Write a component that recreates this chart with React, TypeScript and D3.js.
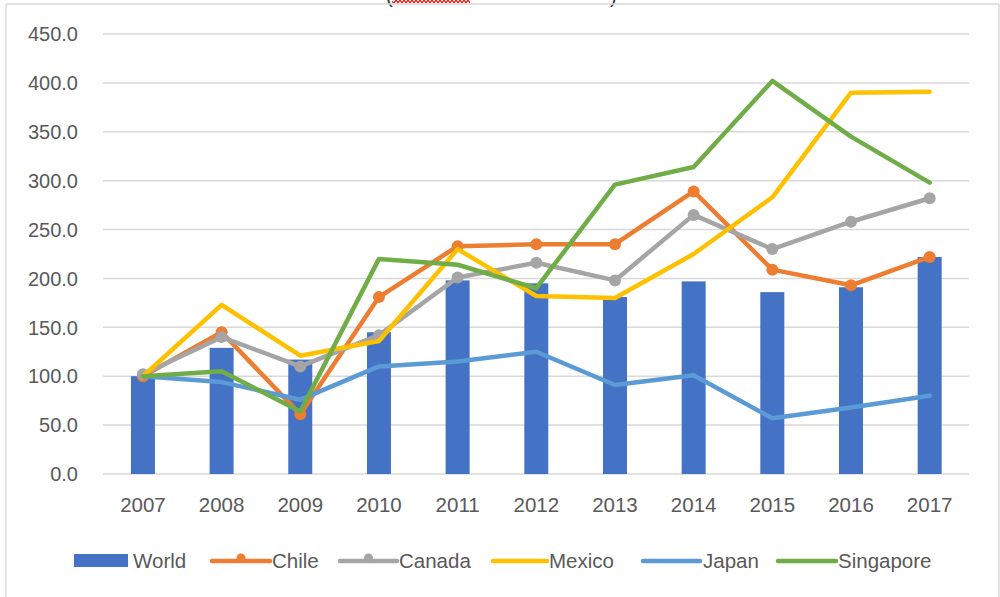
import React from "react";
import * as d3 from "d3";

const years = ["2007","2008","2009","2010","2011","2012","2013","2014","2015","2016","2017"];
const world = [100, 129, 117, 145, 198, 195, 181, 197, 186, 191, 222];
const chile = [100, 145, 61, 181, 233, 235, 235, 289, 209, 193, 222];
const canada = [102, 140, 110, 142, 201, 216, 198, 265, 230, 258, 282];
const mexico = [100, 173, 121, 136, 230, 182, 180, 225, 283, 390, 391];
const japan = [100, 94, 76, 110, 115, 125, 91, 101, 57, 68, 80];
const singapore = [100, 105, 64, 220, 214, 190, 296, 314, 402, 345, 298];
const yTicks = [0, 50, 100, 150, 200, 250, 300, 350, 400, 450];

const lineSeries = [
  { name: "Chile", values: chile, color: "#ED7D31", marker: true },
  { name: "Canada", values: canada, color: "#A5A5A5", marker: true },
  { name: "Mexico", values: mexico, color: "#FFC000", marker: false },
  { name: "Japan", values: japan, color: "#5B9BD5", marker: false },
  { name: "Singapore", values: singapore, color: "#70AD47", marker: false },
];

const legendItems = [
  { name: "World", color: "#4472C4", kind: "bar", x0: 74, x1: 128, tx: 133 },
  { name: "Chile", color: "#ED7D31", kind: "marker", x0: 212, x1: 270, tx: 272 },
  { name: "Canada", color: "#A5A5A5", kind: "marker", x0: 340, x1: 397, tx: 399 },
  { name: "Mexico", color: "#FFC000", kind: "line", x0: 493, x1: 547, tx: 549 },
  { name: "Japan", color: "#5B9BD5", kind: "line", x0: 643, x1: 700, tx: 703 },
  { name: "Singapore", color: "#70AD47", kind: "line", x0: 778, x1: 836, tx: 838 },
];

const FONT = "'Liberation Sans', Arial, sans-serif";
const TXT = "#595959";

export default function App() {
  const W = 1000, H = 597;
  const x = d3.scaleBand<string>().domain(years).range([103.6, 969]).paddingInner(0).paddingOuter(0);
  const y = d3.scaleLinear().domain([0, 450]).range([474, 34]);
  const bw = x.bandwidth() * 0.305;
  const cx = (yr: string) => (x(yr) as number) + x.bandwidth() / 2;
  const line = d3.line<number>().x((_, i) => cx(years[i])).y((v) => y(v));

  // squiggle for cut-off title
  let sq = "M392,1.5";
  for (let xx = 394; xx <= 470; xx += 2) sq += ` L${xx},${(xx / 2) % 2 === 0 ? 0.2 : 2.8}`;

  return (
    <svg width={W} height={H} style={{ position: "absolute", left: 0, top: 0, background: "#fff" }} fontFamily={FONT}>
      <rect x={0} y={0} width={W} height={H} fill="#fff" />
      {/* cut-off title */}
      <text x={386} y={3} fontSize={20} fill="#333">(</text>
      <text x={610} y={3} fontSize={20} fill="#333">)</text>
      <path d={sq} stroke="#e00" strokeWidth={1.2} fill="none" />
      {/* border */}
      <line x1={6} y1={4} x2={999} y2={4} stroke="#d9d9d9" strokeWidth={1.5} />
      <line x1={6} y1={4} x2={6} y2={H} stroke="#d9d9d9" strokeWidth={1.5} />
      <line x1={999} y1={4} x2={999} y2={H} stroke="#d9d9d9" strokeWidth={1.5} />
      {/* gridlines & y labels */}
      {yTicks.map((t) => (
        <g key={t}>
          <line x1={103} x2={969} y1={y(t)} y2={y(t)} stroke="#d9d9d9" strokeWidth={1.5} />
          <text x={78} y={y(t)} dy="0.36em" textAnchor="end" fontSize={20} fill={TXT}>
            {t.toFixed(1)}
          </text>
        </g>
      ))}
      {/* x labels */}
      {years.map((yr) => (
        <text key={yr} x={cx(yr)} y={512} textAnchor="middle" fontSize={20.5} fill={TXT}>
          {yr}
        </text>
      ))}
      {/* bars */}
      {years.map((yr, i) => (
        <rect key={yr} x={cx(yr) - bw / 2} y={y(world[i])} width={bw} height={y(0) - y(world[i])} fill="#4472C4" />
      ))}
      {/* lines */}
      {lineSeries.map((s) => (
        <g key={s.name}>
          <path d={line(s.values) as string} fill="none" stroke={s.color} strokeWidth={4.5} strokeLinejoin="round" strokeLinecap="round" />
          {s.marker &&
            s.values.map((v, i) => <circle key={i} cx={cx(years[i])} cy={y(v)} r={6} fill={s.color} />)}
        </g>
      ))}
      {/* legend */}
      {legendItems.map((it) => (
        <g key={it.name}>
          {it.kind === "bar" ? (
            <rect x={it.x0} y={554} width={it.x1 - it.x0} height={13} fill={it.color} />
          ) : (
            <>
              <line x1={it.x0} x2={it.x1} y1={561} y2={561} stroke={it.color} strokeWidth={4.5} strokeLinecap="round" />
              {it.kind === "marker" && <circle cx={(it.x0 + it.x1) / 2} cy={558} r={4.5} fill={it.color} />}
            </>
          )}
          <text x={it.tx} y={561} dy="0.36em" fontSize={20.5} fill={TXT}>
            {it.name}
          </text>
        </g>
      ))}
    </svg>
  );
}
